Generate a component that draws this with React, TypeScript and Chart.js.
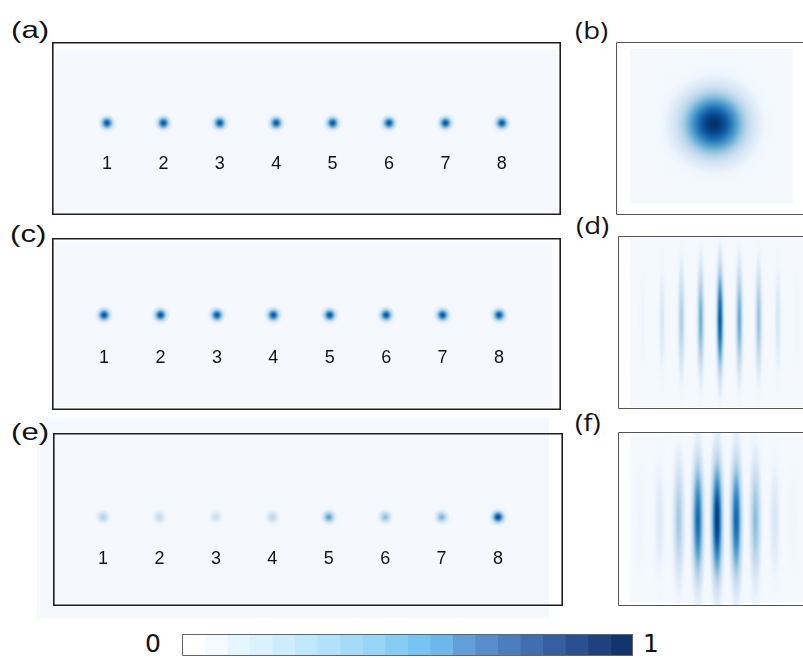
import React, { useEffect, useRef } from "react";
import { Chart, registerables } from "chart.js";
Chart.register(...registerables);

// ---------------- data ----------------
const spotLabels = ["1", "2", "3", "4", "5", "6", "7", "8"];
const spotIndex = [1, 2, 3, 4, 5, 6, 7, 8];
const spotsA = [0.86, 0.86, 0.86, 0.86, 0.86, 0.86, 0.86, 0.86];
const spotsC = [0.86, 0.86, 0.86, 0.86, 0.86, 0.86, 0.86, 0.86];
const spotsE = [0.31, 0.25, 0.21, 0.28, 0.55, 0.42, 0.46, 0.9];
const blobB = [1.0];
const fringeOrdersD = [-4, -3, -2, -1, 0, 1, 2, 3, 4];
const fringesD = [0.06, 0.15, 0.33, 0.5, 0.86, 0.52, 0.4, 0.16, 0.05];
const fringeOrdersF = [-4, -3, -2, -1, 0, 1, 2, 3, 4];
const fringesF = [0.05, 0.13, 0.36, 0.78, 0.97, 0.8, 0.42, 0.15, 0.05];
const colorbarTicks = ["0", "1"];
const colorBands = [
  "#ffffff", "#f3fbff", "#e6f6fe", "#daf2fd", "#cdedfc", "#c0e8fb", "#b2e2fa",
  "#a4dcf8", "#96d5f6", "#86cdf4", "#76c4f1", "#6cb8ea", "#629fd9", "#578dca",
  "#4c7dbc", "#416eae", "#365f9f", "#2b508f", "#20417e", "#12336c",
];

// ---------------- styling helpers ----------------
const heatStops: [number, string][] = [
  [0, "#f5f9fe"], [0.125, "#deebf7"], [0.25, "#c6dbef"], [0.375, "#9ecae1"],
  [0.5, "#6baed6"], [0.625, "#4292c6"], [0.75, "#2171b5"], [0.875, "#08519c"], [1, "#08306b"],
];
function hexRgb(h: string) {
  return [parseInt(h.slice(1, 3), 16), parseInt(h.slice(3, 5), 16), parseInt(h.slice(5, 7), 16)];
}
const heatRgb = heatStops.map(([t, c]) => [t, hexRgb(c)] as [number, number[]]);
function cmap(v: number) {
  v = Math.max(0, Math.min(1, v));
  for (let i = 1; i < heatRgb.length; i++) {
    const [t1, c1] = heatRgb[i];
    const [t0, c0] = heatRgb[i - 1];
    if (v <= t1) {
      const f = (v - t0) / (t1 - t0);
      return [0, 1, 2].map((k) => c0[k] + (c1[k] - c0[k]) * f);
    }
  }
  return heatRgb[heatRgb.length - 1][1];
}
function gaussImage(amp: number, sx: number, sy: number): HTMLCanvasElement {
  const w = Math.ceil(sx * 4) * 2 + 1;
  const h = Math.ceil(sy * 4) * 2 + 1;
  const c = document.createElement("canvas");
  c.width = w;
  c.height = h;
  const g = c.getContext("2d")!;
  const img = g.createImageData(w, h);
  const cx = (w - 1) / 2, cy = (h - 1) / 2;
  for (let y = 0; y < h; y++) {
    for (let x = 0; x < w; x++) {
      const dx = x - cx, dy = y - cy;
      const I = amp * Math.exp(-(dx * dx) / (2 * sx * sx) - (dy * dy) / (2 * sy * sy));
      const col = cmap(I);
      const o = (y * w + x) * 4;
      img.data[o] = col[0];
      img.data[o + 1] = col[1];
      img.data[o + 2] = col[2];
      img.data[o + 3] = Math.round(255 * Math.min(1, I / 0.08));
    }
  }
  g.putImageData(img, 0, 0);
  return c;
}

const frame = (color: string, lw: number, full: boolean) => ({
  id: "frame",
  afterDraw(chart: any) {
    const { ctx, chartArea: a } = chart;
    const h = lw / 2;
    ctx.save();
    ctx.strokeStyle = color;
    ctx.lineWidth = lw;
    ctx.beginPath();
    if (full) {
      ctx.rect(a.left + h, a.top + h, a.right - a.left - lw, a.bottom - a.top - lw);
    } else {
      ctx.moveTo(a.right, a.top + h);
      ctx.lineTo(a.left + h, a.top + h);
      ctx.lineTo(a.left + h, a.bottom - h);
      ctx.lineTo(a.right, a.bottom - h);
    }
    ctx.stroke();
    ctx.restore();
  },
});

const numberLabels = (labelY: number) => ({
  id: "numberLabels",
  afterDatasetsDraw(chart: any) {
    const { ctx } = chart;
    const xs = chart.scales.x, ys = chart.scales.y;
    ctx.save();
    ctx.fillStyle = "#111";
    ctx.font = '18px "Liberation Sans", Arial, sans-serif';
    ctx.textAlign = "center";
    ctx.textBaseline = "middle";
    spotLabels.forEach((t, i) => {
      ctx.fillText(t, xs.getPixelForValue(spotIndex[i]), ys.getPixelForValue(labelY));
    });
    ctx.restore();
  },
});

const baseOptions = {
  animation: false as const,
  responsive: false,
  maintainAspectRatio: false,
  events: [] as any[],
  layout: { padding: 0, autoPadding: false },
  plugins: { legend: { display: false }, tooltip: { enabled: false } },
};

function pointChart(
  xs: number[], ys: number[], imgs: HTMLCanvasElement[],
  xMin: number, xMax: number, yMin: number, yMax: number, plugins: any[]
) {
  return {
    type: "scatter",
    data: {
      datasets: [
        {
          data: xs.map((x, i) => ({ x, y: ys[i] })),
          pointStyle: (c: any) => (c.dataIndex !== undefined ? imgs[c.dataIndex] : "circle"),
          pointRadius: 2,
          borderWidth: 0,
          backgroundColor: "rgba(0,0,0,0)",
        },
      ],
    },
    options: {
      ...baseOptions,
      scales: {
        x: { type: "linear", display: false, min: xMin, max: xMax },
        y: { type: "linear", display: false, min: yMin, max: yMax },
      },
    },
    plugins,
  };
}

function spotPanel(amps: number[], rowY: number, labelY: number, xMin: number, xMax: number) {
  const imgs = amps.map((a) => gaussImage(a, 3.8, 3.8));
  return pointChart(spotIndex, spotIndex.map(() => rowY), imgs, xMin, xMax, 0, 1,
    [frame("#1e1e1e", 1.6, true), numberLabels(labelY)]);
}

function fringePanel(orders: number[], amps: number[], sx: number, sy: number, xMin: number, xMax: number, yMin: number, yMax: number) {
  const imgs = amps.map((a) => gaussImage(a, sx, sy));
  return pointChart(orders, orders.map(() => 0), imgs, xMin, xMax, yMin, yMax, [frame("#555", 1, false)]);
}

function blobPanel() {
  const imgs = blobB.map((a) => gaussImage(a, 21, 21));
  return pointChart([0.03], [0.026], imgs, -1.172, 1.123, -1.156, 1.091, [frame("#555", 1, false)]);
}

function colorbarChart() {
  return {
    type: "bar",
    data: {
      labels: [""],
      datasets: colorBands.map((c) => ({
        data: [1 / colorBands.length],
        backgroundColor: c,
        borderWidth: 0,
        barPercentage: 1,
        categoryPercentage: 1,
      })),
    },
    options: {
      ...baseOptions,
      indexAxis: "y",
      scales: {
        x: { stacked: true, display: false, min: 0, max: 1 },
        y: { stacked: true, display: false },
      },
    },
    plugins: [frame("#666", 1, true)],
  };
}

function ChartBox(props: { left: number; top: number; width: number; height: number; make: () => any }) {
  const ref = useRef<HTMLCanvasElement>(null);
  useEffect(() => {
    const chart = new Chart(ref.current!, props.make());
    return () => chart.destroy();
  }, []);
  return (
    <canvas
      ref={ref}
      width={props.width}
      height={props.height}
      style={{ position: "absolute", left: props.left, top: props.top, width: props.width, height: props.height }}
    />
  );
}

const fill = (left: number, top: number, width: number, height: number) => (
  <div style={{ position: "absolute", left, top, width, height, background: "#f5f9fe" }} />
);

const tag = (t: string, left: number, top: number, family: string, sx: number) => (
  <div
    style={{
      position: "absolute", left, top, fontSize: 24, lineHeight: "24px",
      fontFamily: family, color: "#111", whiteSpace: "nowrap",
      transform: `scaleX(${sx})`, transformOrigin: "left top",
    }}
  >
    {t}
  </div>
);

export default function App() {
  const sans = '"Liberation Sans", Arial, sans-serif';
  const alt = '"Open Sans", "Liberation Sans", sans-serif';
  return (
    <div style={{ position: "absolute", left: 0, top: 0, width: 803, height: 658, overflow: "hidden", background: "#fff" }}>
      {fill(55, 50, 502, 163)}
      {fill(54, 242, 498, 165)}
      {fill(37, 418, 512, 200)}
      {fill(630, 49, 163, 154)}
      {fill(630, 238, 173, 169)}
      {fill(630, 435, 173, 168)}

      <ChartBox left={52} top={42} width={509} height={173} make={() => spotPanel(spotsA, 0.532, 0.292, 0.025, 9.05)} />
      <ChartBox left={52} top={238} width={509} height={172} make={() => spotPanel(spotsC, 0.552, 0.305, 0.078, 9.098)} />
      <ChartBox left={53} top={433} width={510} height={173} make={() => spotPanel(spotsE, 0.514, 0.272, 0.113, 9.151)} />
      <ChartBox left={616} top={42} width={187} height={173} make={() => blobPanel()} />
      <ChartBox left={618} top={236} width={185} height={173}
        make={() => fringePanel(fringeOrdersD, fringesD, 2.2, 35, -5.28, 4.3, -1.03, 0.97)} />
      <ChartBox left={618} top={432} width={185} height={174}
        make={() => fringePanel(fringeOrdersF, fringesF, 3.6, 40, -5.16, 4.48, -0.99, 1.01)} />
      <ChartBox left={182} top={634} width={451} height={22} make={() => colorbarChart()} />

      {tag("(a)", 11, 18, sans, 1.3)}
      {tag("(b)", 575, 18, alt, 1.15)}
      {tag("(c)", 10, 222, sans, 1.3)}
      {tag("(d)", 576, 213, alt, 1.15)}
      {tag("(e)", 11, 420, sans, 1.3)}
      {tag("(f)", 575, 410, alt, 1.15)}

      <div style={{ position: "absolute", left: 145, top: 631, fontSize: 25, lineHeight: "25px", fontFamily: '"DejaVu Sans", sans-serif', color: "#111" }}>
        {colorbarTicks[0]}
      </div>
      <div style={{ position: "absolute", left: 643, top: 631, fontSize: 25, lineHeight: "25px", fontFamily: '"DejaVu Sans", sans-serif', color: "#111" }}>
        {colorbarTicks[1]}
      </div>
    </div>
  );
}
